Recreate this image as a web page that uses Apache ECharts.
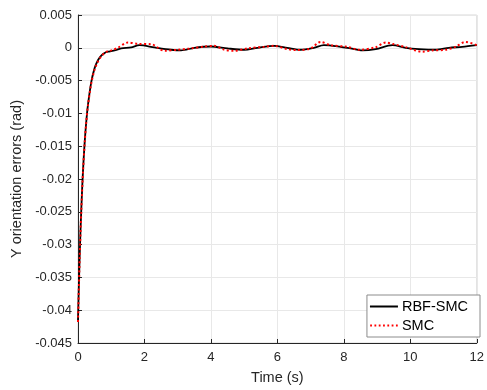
<!DOCTYPE html>
<html>
<head>
<meta charset="utf-8">
<script src="https://cdn.jsdelivr.net/npm/echarts@6/dist/echarts.min.js"></script>
<style>
  html, body { margin: 0; padding: 0; background: #fff; }
  #chart { width: 487px; height: 390px; }
</style>
</head>
<body>
<div id="chart"></div>
<script>
// Y orientation tracking error of the two controllers
const rbfTime = [0, 0.05, 0.1, 0.15, 0.2, 0.25, 0.3, 0.4, 0.5, 0.6, 0.7, 0.8, 0.9, 1.0, 1.1, 1.3, 1.6, 1.85,
  2.3, 2.8, 3.1, 3.5, 4.0, 4.5, 5.0, 5.4, 5.9, 6.3, 6.7, 7.1, 7.4, 7.9, 8.2, 8.56, 8.96, 9.46, 9.86,
  10.26, 10.76, 11.16, 11.56, 12.0];
const rbfErr = [-0.0415, -0.0318, -0.0245, -0.0188, -0.0145, -0.0112, -0.0087, -0.0052, -0.0031, -0.0019,
  -0.0012, -0.0008, -0.0006, -0.0005, -0.0004, -0.0001, 0.00005, 0.0004, 0.00005, -0.0003, -0.0004, 0,
  0.0002, -0.0001, -0.0003, 0, 0.0003, 0, -0.0003, 0, 0.0004, 0.00015, -0.0001, -0.0004, -0.0002, 0.0004,
  0, -0.0002, -0.0003, 0, 0.00015, 0.0004];

const smcTime = [0, 0.05, 0.1, 0.15, 0.2, 0.25, 0.3, 0.4, 0.5, 0.6, 0.7, 0.8, 0.9, 1.0, 1.2, 1.5, 1.8, 2.2,
  2.6, 3.0, 3.4, 3.8, 4.1, 4.4, 4.7, 5.1, 5.6, 5.9, 6.3, 6.6, 7.0, 7.3, 7.6, 8.1, 8.46, 8.96, 9.26, 9.46,
  9.86, 10.36, 10.66, 11.06, 11.36, 11.66, 12.0];
const smcErr = [-0.0418, -0.0322, -0.0248, -0.0190, -0.0146, -0.0113, -0.0088, -0.0054, -0.0033, -0.0021,
  -0.0013, -0.0008, -0.0005, -0.0004, 0, 0.0008, 0.0006, 0.00055, -0.00045, -0.0003, -0.0001, 0.0002,
  0.0003, -0.0003, -0.00045, -0.0001, 0.00015, 0.0003, -0.0002, -0.00035, -0.0001, 0.0009, 0.0004,
  0.00015, -0.0003, 0.0001, 0.0008, 0.0006, 0.0001, -0.0006, -0.0004, -0.0003, 0.00015, 0.0009, 0.0004];

const xTicks = { min: 0, max: 12, step: 2 };
const yTicks = { min: -0.045, max: 0.005, step: 0.005 };
const seriesNames = ['RBF-SMC', 'SMC'];

const pairs = (xs, ys) => xs.map((x, i) => [x, ys[i]]);
const font = '"Liberation Sans", Arial, Helvetica, sans-serif';
const axisColor = '#262626';
const gridColor = '#e8e8e8';

// legend glyphs: a solid stroke and a row of dots
const solidIcon = 'path://M0,0 L28,0 L28,2 L0,2 Z';
let dotPath = '';
for (let i = 0; i < 7; i++) {
  const x0 = i * 4.3;
  dotPath += `M${x0.toFixed(1)},0 L${(x0 + 1.8).toFixed(1)},0 L${(x0 + 1.8).toFixed(1)},2 L${x0.toFixed(1)},2 Z `;
}
const dotIcon = 'path://' + dotPath.trim();

const chart = echarts.init(document.getElementById('chart'), null, { renderer: 'canvas' });
chart.setOption({
  animation: false,
  backgroundColor: '#fff',
  grid: { left: 78, right: 9, top: 15, bottom: 45, show: true, borderColor: '#d9d9d9', borderWidth: 1 },
  xAxis: {
    type: 'value', min: xTicks.min, max: xTicks.max, interval: xTicks.step,
    name: 'Time (s)', nameLocation: 'middle', nameGap: 27,
    nameTextStyle: { fontFamily: font, fontSize: 14.5, color: axisColor },
    axisLine: { onZero: false, lineStyle: { color: axisColor, width: 1 } },
    axisTick: { inside: true, length: 4, lineStyle: { color: axisColor } },
    axisLabel: { fontFamily: font, fontSize: 13, color: axisColor, margin: 8 },
    splitLine: { lineStyle: { color: gridColor, width: 1 } }
  },
  yAxis: {
    type: 'value', min: yTicks.min, max: yTicks.max, interval: yTicks.step,
    name: 'Y orientation errors (rad)', nameLocation: 'middle', nameGap: 46,
    nameTextStyle: { fontFamily: font, fontSize: 14.5, color: axisColor },
    axisLine: { show: true, onZero: false, lineStyle: { color: axisColor, width: 1 } },
    axisTick: { show: true, inside: true, length: 4, lineStyle: { color: axisColor } },
    axisLabel: {
      fontFamily: font, fontSize: 13, color: axisColor, margin: 6,
      formatter: v => String(+v.toFixed(3))
    },
    splitLine: { lineStyle: { color: gridColor, width: 1 } }
  },
  legend: {
    orient: 'vertical', right: 7, bottom: 53,
    backgroundColor: '#fff', borderColor: '#8c8c8c', borderWidth: 1,
    padding: [4, 12, 4, 3], itemGap: 4, itemWidth: 28, itemHeight: 2,
    textStyle: { fontFamily: font, fontSize: 14.5, color: '#000', padding: [0, 0, 0, -1] },
    data: [
      { name: seriesNames[0], icon: solidIcon, itemStyle: { color: '#000' } },
      { name: seriesNames[1], icon: dotIcon, itemStyle: { color: '#ff0000' } }
    ]
  },
  series: [
    {
      name: seriesNames[0], type: 'line', showSymbol: false, symbol: 'none', smooth: 0.3,
      data: pairs(rbfTime, rbfErr), z: 2,
      itemStyle: { color: '#000' },
      lineStyle: { color: '#000', width: 1.8 }
    },
    {
      name: seriesNames[1], type: 'line', showSymbol: false, symbol: 'none', smooth: 0.3,
      data: pairs(smcTime, smcErr), z: 3,
      itemStyle: { color: '#ff0000' },
      lineStyle: { color: '#ff0000', width: 2, type: [2, 2.5] }
    }
  ]
});
</script>
</body>
</html>
